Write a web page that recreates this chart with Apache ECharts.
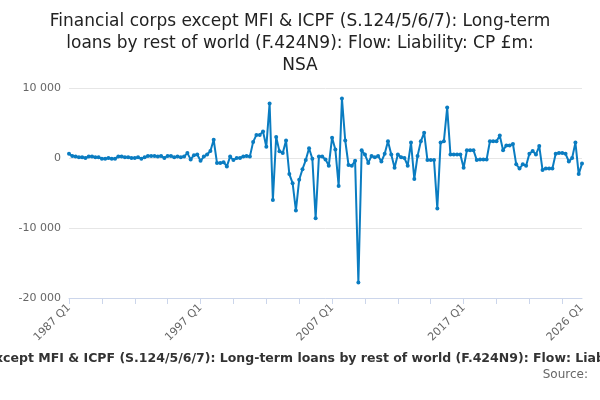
<!DOCTYPE html>
<html>
<head>
<meta charset="UTF-8">
<script src="https://cdn.jsdelivr.net/npm/echarts@6/dist/echarts.min.js"></script>
<style>body{margin:0}#main{width:600px;height:400px}</style>
</head>
<body>
<div id="main"></div>
<script>
// quarters 1987 Q1 .. 2026 Q1
var quarters = [];
for (var y = 1987; y <= 2026; y++) {
    for (var q = 1; q <= 4; q++) {
        if (y === 2026 && q > 1) break;
        quarters.push(y + ' Q' + q);
    }
}
var values = [
    600,300,200,100,100,0,200,200,100,100,-100,-100,0,-100,-100,200,200,100,100,0,
    0,100,-100,100,300,300,300,200,300,0,300,300,100,200,100,200,700,-200,400,500,
    -400,200,500,1000,2600,-700,-700,-600,-1200,200,-300,0,0,200,300,200,
    2300,3300,3300,3800,1600,7800,-6000,3000,950,700,2500,-2300,-3600,-7500,-3100,-1600,
    -300,1400,-100,-8600,200,200,-200,-1100,2900,1200,-4000,8500,2500,-1000,-1100,-400,
    -17800,1100,500,-700,300,100,300,-500,600,2400,500,-1400,500,100,0,-1100,2200,
    -3000,300,2400,3600,-300,-300,-300,-7200,2200,2400,7200,500,500,500,500,-1400,
    1100,1100,1100,-300,-200,-200,-200,2400,2400,2400,3200,1100,1800,1800,2000,-900,
    -1500,-900,-1100,600,1000,500,1700,-1700,-1500,-1500,-1500,600,700,700,600,-500,
    0,2200,-2300,-800
];
var titleText = 'Financial corps except MFI & ICPF (S.124/5/6/7): Long-term\nloans by rest of world (F.424N9): Flow: Liability: CP \u00a3m:\nNSA';
var subText = 'Financial corps except MFI & ICPF (S.124/5/6/7): Long-term loans by rest of world (F.424N9): Flow: Liability: CP \u00a3m: NSA';

var chart = echarts.init(document.getElementById('main'));
var last = quarters.length - 1;
chart.setOption({
    animation: false,
    title: {
        text: titleText, left: 'center', top: 6,
        textStyle: {fontSize: 17, fontWeight: 'normal', color: '#222', lineHeight: 22, fontFamily: 'DejaVu Sans'}
    },
    grid: {left: 69, right: 18, top: 88, bottom: 102},
    xAxis: {
        type: 'category', data: quarters, boundaryGap: false,
        axisLine: {onZero: false, lineStyle: {color: '#ccd6eb'}},
        axisTick: {alignWithLabel: true, interval: 9, length: 6, lineStyle: {color: '#ccd6eb'}},
        axisLabel: {
            rotate: 45, color: '#666', fontSize: 11, fontFamily: 'DejaVu Sans',
            interval: function (i) { return i % 40 === 0 || i === last; }
        }
    },
    yAxis: {
        type: 'value', min: -20000, max: 10000, interval: 10000,
        axisLabel: {color: '#666', fontSize: 11, fontFamily: 'DejaVu Sans',
            formatter: function (v) { return String(v).replace(/\B(?=(\d{3})+(?!\d))/g, ' '); }},
        splitLine: {lineStyle: {color: '#e6e6e6'}}
    },
    series: [{
        type: 'line', data: values, symbol: 'circle', symbolSize: 4, showAllSymbol: true,
        lineStyle: {width: 2, color: '#0a7cc1'}, itemStyle: {color: '#0a7cc1'}
    }],
    graphic: [
        {type: 'text', left: 'center', top: 352,
            style: {text: subText, fontSize: 12.5, fontWeight: 'bold', fill: '#333', fontFamily: 'DejaVu Sans'}},
        {type: 'text', right: 12, top: 369,
            style: {text: 'Source:', fontSize: 12, fill: '#666', fontFamily: 'DejaVu Sans'}}
    ]
});
</script>
</body>
</html>
